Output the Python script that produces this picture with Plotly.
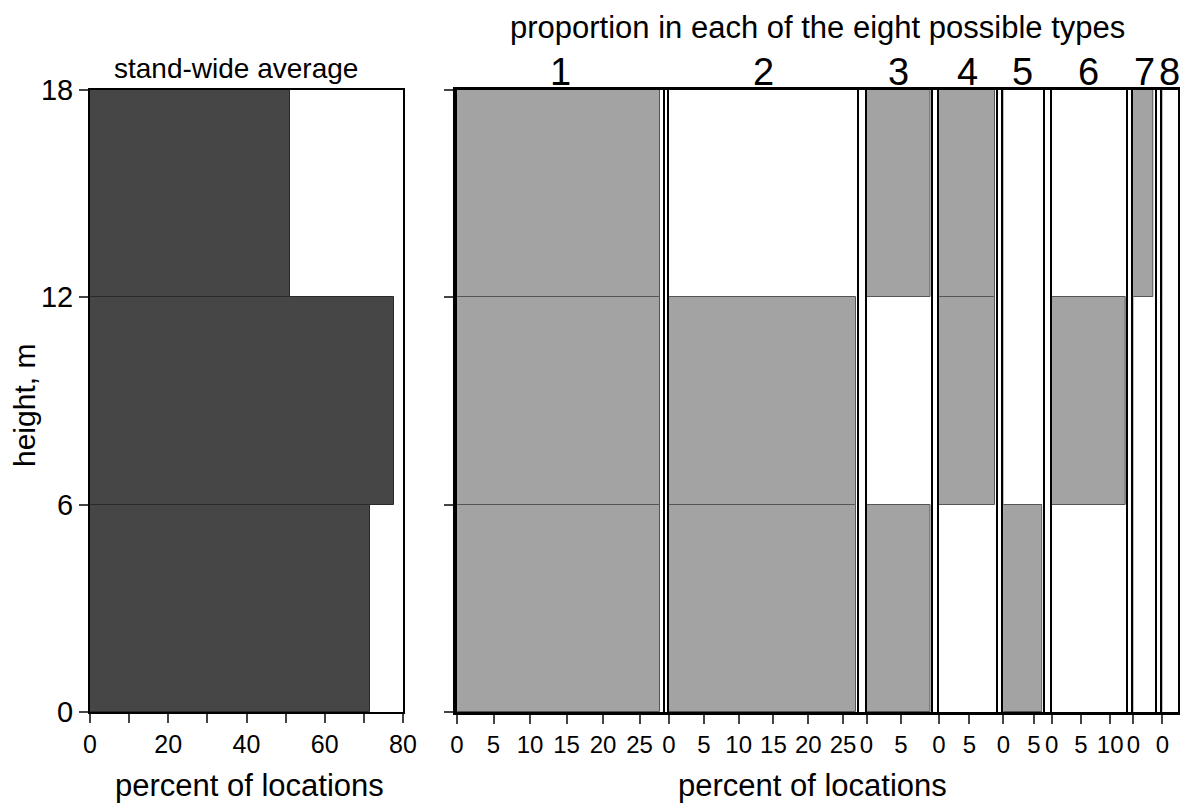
import plotly.graph_objects as go

# ---------------- data ----------------
height_bins_lower = [0, 6, 12]          # lower edge of each height bin (m)
bin_size = 6
stand_avg = [71.5, 77.7, 51.0]          # percent of locations, stand-wide
type_names = ["1", "2", "3", "4", "5", "6", "7", "8"]
type_pct = [
    [27.8, 27.8, 27.8],   # type 1  (0-6, 6-12, 12-18 m)
    [26.9, 26.9, 0.0],    # type 2
    [9.3, 0.0, 9.3],      # type 3
    [0.0, 9.3, 9.3],      # type 4
    [6.4, 0.0, 0.0],      # type 5
    [0.0, 12.7, 0.0],     # type 6
    [0.0, 0.0, 3.3],      # type 7
    [0.0, 0.0, 0.0],      # type 8
]
type_axis_max = [28.2, 27.0, 9.4, 9.4, 6.4, 12.7, 3.6, 2.5]
left_ticks = [0, 20, 40, 60, 80]
height_ticks = [0, 6, 12, 18]

# ---------------- layout helpers ----------------
OFF = 8                      # page body margin in the browser
W, H = 1188 - OFF, 803 - OFF
def px(x):
    return (x - OFF) / W
def py(y):
    return 1 - (y - OFF) / H
def xd(a, b):
    return [px(a), px(b)]
ydom = [py(712), py(90)]

panel_px = [(457, 663), (669, 857), (866.5, 931), (939, 996),
            (1003.3, 1042.5), (1051.7, 1126), (1133.3, 1155), (1162.3, 1177.5)]

FONT = "Liberation Sans, Arial, Helvetica, sans-serif"
centers = [h + bin_size / 2 for h in height_bins_lower]
CLEAR = "rgba(0,0,0,0)"

fig = go.Figure()

# left panel
fig.add_trace(go.Bar(
    x=stand_avg, y=centers, orientation="h", width=bin_size,
    marker=dict(color="#464646", line=dict(color="#2a2a2a", width=1)),
    xaxis="x", yaxis="y", showlegend=False, hoverinfo="x+y"))

layout = dict(
    width=W, height=H,
    margin=dict(l=0, r=0, t=0, b=0, pad=0, autoexpand=False),
    paper_bgcolor="white", plot_bgcolor=CLEAR,
    bargap=0, showlegend=False,
    font=dict(family=FONT, color="black"),
)

layout["xaxis"] = dict(domain=xd(90, 403), range=[0, 80], anchor="y", automargin=False,
                       tickvals=left_ticks, ticks="outside", ticklen=9, tickwidth=1.5,
                       minor=dict(dtick=10, ticks="outside", ticklen=9, tickwidth=1.5),
                       showline=True, linewidth=2, linecolor="black", mirror=True,
                       showgrid=False, zeroline=False, tickangle=0,
                       tickfont=dict(size=25, family=FONT))
layout["yaxis"] = dict(domain=ydom, range=[0, 18], anchor="x", automargin=False,
                       tickvals=height_ticks, ticks="outside", ticklen=9, tickwidth=1.5,
                       showline=True, linewidth=2, linecolor="black", mirror=True,
                       showgrid=False, zeroline=False,
                       tickfont=dict(size=29, family=FONT))

annotations = []
for k, (vals, mx, (a, b)) in enumerate(zip(type_pct, type_axis_max, panel_px)):
    xa = f"x{k + 2}"
    ya = f"y{k + 2}"
    fig.add_trace(go.Bar(
        x=vals, y=centers, orientation="h", width=bin_size,
        marker=dict(color="#a3a3a3", line=dict(color="#555555", width=1)),
        xaxis=xa, yaxis=ya, showlegend=False, hoverinfo="x+y"))
    layout[f"xaxis{k + 2}"] = dict(domain=xd(a, b), range=[0, mx], anchor=ya, automargin=False,
                                   dtick=5, tick0=0, ticks="outside", ticklen=10, tickwidth=1.5,
                                   showline=True, linewidth=1.5, linecolor="black", mirror=True,
                                   showgrid=False, zeroline=False, tickangle=0,
                                   tickfont=dict(size=24, family=FONT))
    layout[f"yaxis{k + 2}"] = dict(domain=ydom, range=[0, 18], anchor=xa, automargin=False,
                                   showticklabels=False, ticks="",
                                   showline=True, linewidth=1.5, linecolor="black", mirror=True,
                                   showgrid=False, zeroline=False)
    annotations.append(dict(text=type_names[k], xref=f"{xa} domain", x=0.5, xanchor="center",
                            yref="paper", y=py(95), yanchor="bottom",
                            showarrow=False, font=dict(size=38, family=FONT)))

# overall frame of the right panel (with height ticks on its left side)
fig.add_trace(go.Scatter(x=[], y=[], xaxis="x10", yaxis="y10", showlegend=False))
layout["xaxis10"] = dict(domain=xd(456, 1177.5), range=[0, 1], anchor="y10", automargin=False,
                         showticklabels=False, ticks="", showline=True, linewidth=2.5,
                         linecolor="black", mirror=True, showgrid=False, zeroline=False)
layout["yaxis10"] = dict(domain=ydom, range=[0, 18], anchor="x10", automargin=False,
                         tickvals=height_ticks, ticks="outside", ticklen=9, tickwidth=1.5,
                         showticklabels=False, showline=True, linewidth=2.5,
                         linecolor="black", mirror=True, showgrid=False, zeroline=False)

annotations += [
    dict(text="stand-wide average", xref="paper", x=px(236), xanchor="center",
         yref="paper", y=py(69), yanchor="middle", showarrow=False,
         font=dict(size=28, family=FONT)),
    dict(text="proportion in each of the eight possible types", xref="paper", x=px(818),
         xanchor="center", yref="paper", y=py(28), yanchor="middle", showarrow=False,
         font=dict(size=31, family=FONT)),
    dict(text="percent of locations", xref="paper", x=px(250), xanchor="center",
         yref="paper", y=py(785), yanchor="middle", showarrow=False,
         font=dict(size=31, family=FONT)),
    dict(text="percent of locations", xref="paper", x=px(812), xanchor="center",
         yref="paper", y=py(785), yanchor="middle", showarrow=False,
         font=dict(size=31, family=FONT)),
    dict(text="height, m", xref="paper", x=px(24), yref="paper", y=py(406),
         xanchor="center", yanchor="middle", textangle=-90, showarrow=False,
         font=dict(size=30, family=FONT)),
]
layout["annotations"] = annotations

fig.update_layout(**layout)
fig.write_html("out.html")
